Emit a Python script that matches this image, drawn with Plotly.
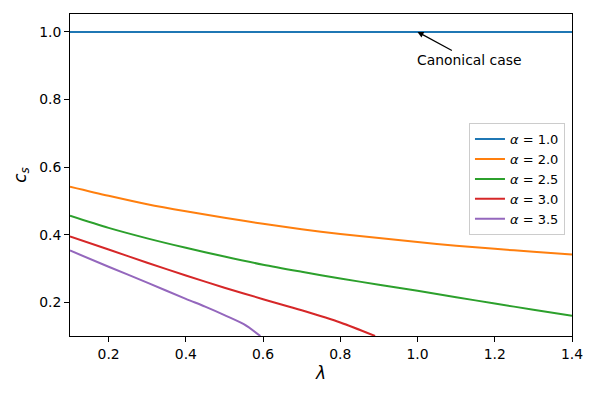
import plotly.graph_objects as go

# lambda grid and c_s curves
lam_1 = [0.1, 1.4]
cs_1 = [1.0, 1.0]

lam_2 = [0.1, 0.2, 0.3, 0.4, 0.5, 0.6, 0.7, 0.8, 0.9, 1.0, 1.1, 1.2, 1.3, 1.4]
cs_2 = [0.542, 0.515, 0.490, 0.469, 0.450, 0.432, 0.416, 0.402, 0.390, 0.378, 0.367, 0.358, 0.349, 0.341]

lam_25 = [0.1, 0.2, 0.3, 0.4, 0.5, 0.6, 0.7, 0.8, 0.9, 1.0, 1.1, 1.2, 1.3, 1.4]
cs_25 = [0.456, 0.420, 0.389, 0.361, 0.335, 0.311, 0.290, 0.270, 0.252, 0.234, 0.215, 0.196, 0.178, 0.160]

lam_3 = [0.1, 0.2, 0.3, 0.4, 0.5, 0.6, 0.7, 0.8, 0.89]
cs_3 = [0.395, 0.356, 0.317, 0.279, 0.243, 0.209, 0.176, 0.140, 0.1]

lam_35 = [0.1, 0.2, 0.3, 0.4, 0.45, 0.5, 0.55, 0.593]
cs_35 = [0.353, 0.305, 0.258, 0.210, 0.187, 0.162, 0.135, 0.1]

series = [
    ("1.0", lam_1, cs_1, "#1f77b4"),
    ("2.0", lam_2, cs_2, "#ff7f0e"),
    ("2.5", lam_25, cs_25, "#2ca02c"),
    ("3.0", lam_3, cs_3, "#d62728"),
    ("3.5", lam_35, cs_35, "#9467bd"),
]

x_ticks = [0.2, 0.4, 0.6, 0.8, 1.0, 1.2, 1.4]
y_ticks = [0.2, 0.4, 0.6, 0.8, 1.0]

fig = go.Figure()
for alpha, xs, ys, col in series:
    fig.add_trace(go.Scatter(x=xs, y=ys, mode="lines",
                             line=dict(color=col, width=2, shape="spline", smoothing=0.8),
                             name="<i>α</i> = " + alpha))

fig.add_annotation(x=1.0, y=1.0, text="Canonical case", showarrow=True,
                   ax=52, ay=28, arrowhead=2, arrowsize=1, arrowwidth=1.2, arrowcolor="black",
                   font=dict(size=13.9, color="black"))

axis_style = dict(showline=True, linecolor="black", linewidth=1, mirror=True, ticks="outside",
                  ticklen=5, tickcolor="black", showgrid=False, zeroline=False, automargin=False,
                  tickfont=dict(size=13.9, color="black"))

fig.update_layout(
    width=598, height=399,
    margin=dict(l=70, r=26, t=14, b=63),
    plot_bgcolor="white", paper_bgcolor="white",
    font=dict(family="DejaVu Sans", size=13.9, color="black"),
    xaxis=dict(range=[0.1, 1.4], tickvals=x_ticks, ticktext=["%.1f" % v for v in x_ticks],
               title=dict(text="<i>λ</i>", standoff=6), **axis_style),
    yaxis=dict(range=[0.1, 1.053], tickvals=y_ticks, ticktext=["%.1f" % v for v in y_ticks],
               title=dict(text="<i>c<sub>s</sub></i>", standoff=8), **axis_style),
    legend=dict(x=0.986, y=0.661, xanchor="right", yanchor="top",
                bgcolor="rgba(255,255,255,0.8)", bordercolor="#cccccc", borderwidth=1,
                font=dict(size=13), tracegroupgap=0),
    showlegend=True,
)

fig.write_html("out.html", config={"displayModeBar": False},
               post_script="document.body.style.margin='0';")
